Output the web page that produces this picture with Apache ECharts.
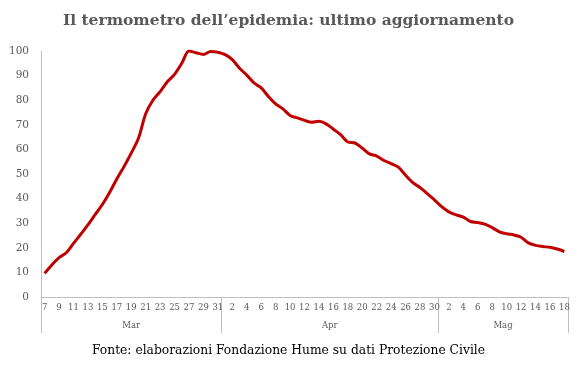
<!DOCTYPE html>
<html>
<head>
<meta charset="utf-8">
<script src="https://cdn.jsdelivr.net/npm/echarts@6/dist/echarts.min.js"></script>
<style>html,body{margin:0;padding:0;background:#fff}#c{width:577px;height:371px}</style>
</head>
<body>
<div id="c"></div>
<script>
const titleText = "Il termometro dell\u2019epidemia: ultimo aggiornamento";
const sourceText = "Fonte: elaborazioni Fondazione Hume su dati Protezione Civile";

const dayLabels = [
  "7","8","9","10","11","12","13","14","15","16","17","18","19","20","21","22","23","24","25","26","27","28","29","30","31",
  "1","2","3","4","5","6","7","8","9","10","11","12","13","14","15","16","17","18","19","20","21","22","23","24","25","26","27","28","29","30",
  "1","2","3","4","5","6","7","8","9","10","11","12","13","14","15","16","17","18"
];
const months = ["Mar", "Apr", "Mag"];
const monthBounds = [0, 25, 55, 73];   // category boundaries between months
const monthCenters = [12.5, 40, 64];

const values = [
  9.6, 13, 16, 18, 21.8, 25.5, 29.3, 33.5, 37.6, 42.5, 48, 53, 58.5, 64.5, 74.5, 80, 83.5, 87.5, 90.5, 95, 100, 99.3, 98.6, 99.8, 99.5,
  98.5, 96.5, 93, 90.2, 87, 85, 81.5, 78.5, 76.5, 73.8, 72.8, 71.8, 71, 71.4, 70.4, 68.2, 66, 63, 62.6, 60.5, 58.2, 57.3, 55.5, 54.2, 52.8, 49.5, 46.5, 44.5, 42, 39.5,
  36.7, 34.6, 33.4, 32.5, 30.7, 30.3, 29.6, 28.2, 26.5, 25.7, 25.2, 24.3, 22, 21, 20.5, 20.2, 19.5, 18.5
];
const yTicks = { min: 0, max: 100, interval: 10 };

const categories = dayLabels.map((d, i) => i + ":" + d);

const chart = echarts.init(document.getElementById('c'), null, { renderer: 'canvas' });
chart.setOption({
  animation: false,
  backgroundColor: '#ffffff',
  title: [
    { text: titleText, left: 'center', top: 8,
      textStyle: { fontFamily: 'DejaVu Serif', fontWeight: 'bold', fontSize: 15.5, color: '#595959' } },
    { text: sourceText, left: 'center', top: 340,
      textStyle: { fontFamily: 'DejaVu Serif', fontWeight: 'normal', fontSize: 12.3, color: '#000000' } }
  ],
  grid: { left: 41, right: 9, top: 51, bottom: 74 },
  xAxis: [
    {
      type: 'category', data: categories, boundaryGap: true,
      axisLine: { lineStyle: { color: '#BFBFBF', width: 1 } },
      axisTick: { show: false },
      axisLabel: { interval: 1, margin: 6, fontFamily: 'DejaVu Serif', fontSize: 8.5, color: '#595959',
        formatter: v => v.split(':')[1] },
      splitLine: { show: false }
    },
    {
      type: 'value', position: 'bottom', min: 0, max: 73,
      axisLine: { show: false },
      axisTick: { show: true, length: 36, customValues: monthBounds, lineStyle: { color: '#BFBFBF', width: 1 } },
      axisLabel: { customValues: monthCenters, margin: 24, fontFamily: 'DejaVu Serif', fontSize: 8.5, color: '#595959',
        formatter: v => months[monthCenters.indexOf(v)] },
      splitLine: { show: false }
    }
  ],
  yAxis: {
    type: 'value', min: yTicks.min, max: yTicks.max, interval: yTicks.interval,
    axisLine: { show: true, lineStyle: { color: '#BFBFBF', width: 1 } },
    axisTick: { show: false },
    axisLabel: { margin: 12, fontFamily: 'DejaVu Serif', fontSize: 10.5, color: '#595959' },
    splitLine: { show: false }
  },
  series: [{
    type: 'line', xAxisIndex: 0, data: values, smooth: 0.3, showSymbol: false,
    lineStyle: { color: '#C00000', width: 3 }
  }]
});
</script>
</body>
</html>
